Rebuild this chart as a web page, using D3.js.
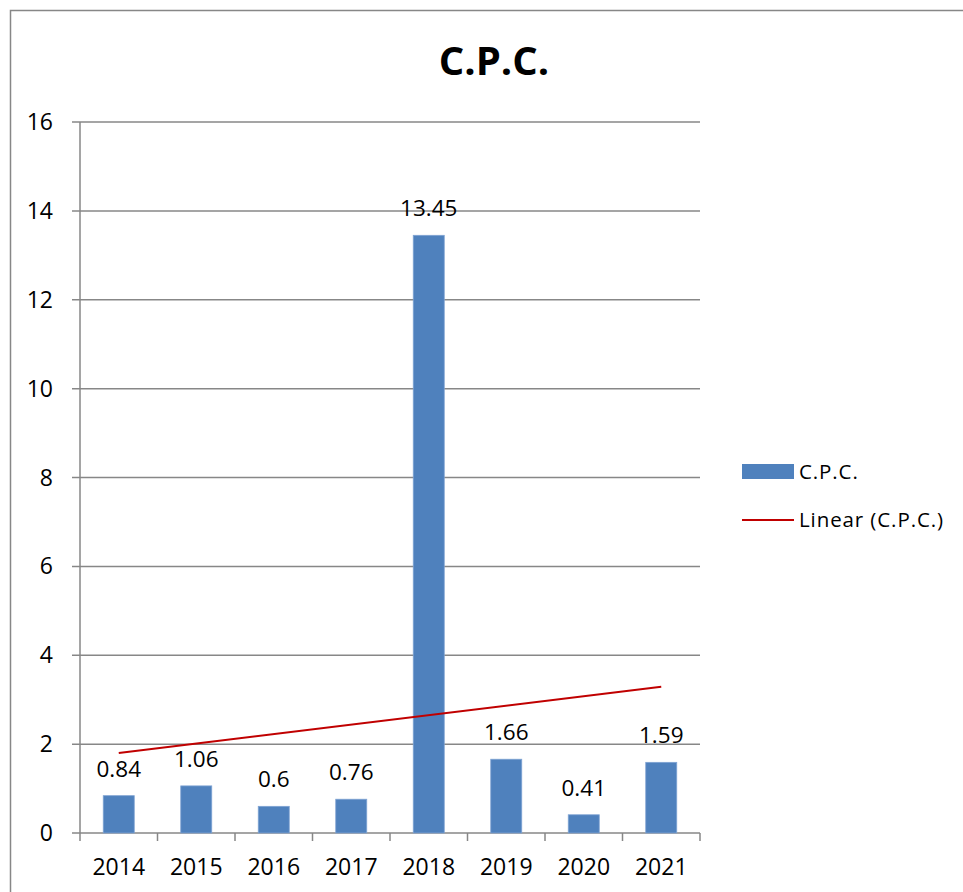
<!DOCTYPE html>
<html>
<head>
<meta charset="utf-8">
<script src="https://cdn.jsdelivr.net/npm/d3@7"></script>
<style>
  html, body { margin: 0; padding: 0; background: #fff; }
  svg { display: block; font-family: "Open Sans", Lato, sans-serif; }
</style>
</head>
<body>
<svg id="chart" width="963" height="892"></svg>
<script>
const title = "C.P.C.";
const categories = ["2014", "2015", "2016", "2017", "2018", "2019", "2020", "2021"];
const values = [0.84, 1.06, 0.6, 0.76, 13.45, 1.66, 0.41, 1.59];
const valueLabels = ["0.84", "1.06", "0.6", "0.76", "13.45", "1.66", "0.41", "1.59"];
const yTicks = [0, 2, 4, 6, 8, 10, 12, 14, 16];
const legendLabels = ["C.P.C.", "Linear (C.P.C.)"];

(function () {
const svg = d3.select("#chart");
const gridColor = "#878787";
const barColor = "#4F81BD";
const trendColor = "#C00000";

// outer frame
svg.append("rect").attr("x", 10.5).attr("y", 10.5).attr("width", 1000).attr("height", 1000)
  .attr("fill", "none").attr("stroke", gridColor).attr("stroke-width", 1.5);

const pL = 80, pR = 700, pT = 122, pB = 833;
const xc = d3.scalePoint().domain(categories).range([pL, pR]).padding(0.5);
const y = d3.scaleLinear().domain([0, 16]).range([pB, pT]);

// gridlines
svg.append("g").selectAll("line").data(yTicks).join("line")
  .attr("x1", pL - 8).attr("x2", pR)
  .attr("y1", d => y(d)).attr("y2", d => y(d))
  .attr("stroke", gridColor).attr("stroke-width", 1.5);

// y axis line
svg.append("line").attr("x1", pL).attr("x2", pL).attr("y1", pT).attr("y2", pB)
  .attr("stroke", gridColor).attr("stroke-width", 1.5);

// y tick labels
svg.append("g").selectAll("text").data(yTicks).join("text")
  .attr("x", pL - 27).attr("y", d => y(d) + 8)
  .attr("text-anchor", "end").attr("font-size", 23).attr("fill", "#000")
  .text(d => d);

// x axis ticks
const step = (pR - pL) / categories.length;
const xTickPos = d3.range(categories.length + 1).map(i => pL + i * step);
svg.append("g").selectAll("line").data(xTickPos).join("line")
  .attr("x1", d => d).attr("x2", d => d).attr("y1", pB).attr("y2", pB + 8)
  .attr("stroke", gridColor).attr("stroke-width", 1.5);

// x labels
svg.append("g").selectAll("text").data(categories).join("text")
  .attr("x", d => xc(d)).attr("y", 875)
  .attr("text-anchor", "middle").attr("font-size", 23).attr("fill", "#000")
  .text(d => d);

// bars
const bw = step * 0.4;
svg.append("g").selectAll("rect").data(values).join("rect")
  .attr("x", (d, i) => xc(categories[i]) - bw / 2)
  .attr("width", bw)
  .attr("y", d => y(d))
  .attr("height", d => y(0) - y(d))
  .attr("fill", barColor).attr("stroke", "#7FA3D3").attr("stroke-width", 0.8);

// data labels
svg.append("g").selectAll("text").data(values).join("text")
  .attr("x", (d, i) => xc(categories[i]))
  .attr("y", d => y(d) - 19)
  .attr("text-anchor", "middle").attr("font-size", 22.5).attr("fill", "#000")
  .text((d, i) => valueLabels[i]);

// linear trendline (least squares)
const xs = values.map((d, i) => i + 1);
const mx = d3.mean(xs), my = d3.mean(values);
const slope = d3.sum(xs.map((xi, i) => (xi - mx) * (values[i] - my))) / d3.sum(xs.map(xi => (xi - mx) ** 2));
const intercept = my - slope * mx;
const ends = [0, categories.length - 1];
svg.append("line")
  .attr("x1", xc(categories[ends[0]])).attr("y1", y(intercept + slope * (ends[0] + 1)))
  .attr("x2", xc(categories[ends[1]])).attr("y2", y(intercept + slope * (ends[1] + 1)))
  .attr("stroke", trendColor).attr("stroke-width", 2);

// title
svg.append("text").attr("x", 494).attr("y", 75).attr("text-anchor", "middle")
  .attr("font-size", 40).attr("font-weight", "bold").attr("fill", "#000").text(title);

// legend
const lg = svg.append("g");
lg.append("rect").attr("x", 742).attr("y", 464).attr("width", 52).attr("height", 15).attr("fill", barColor);
lg.append("text").attr("x", 799).attr("y", 479).attr("font-size", 20.5).attr("letter-spacing", 0.9)
  .attr("fill", "#000").text(legendLabels[0]);
lg.append("line").attr("x1", 742).attr("x2", 794).attr("y1", 520).attr("y2", 520)
  .attr("stroke", trendColor).attr("stroke-width", 2);
lg.append("text").attr("x", 799).attr("y", 527).attr("font-size", 20.5).attr("letter-spacing", 0.9)
  .attr("fill", "#000").text(legendLabels[1]);
})();
</script>
</body>
</html>
